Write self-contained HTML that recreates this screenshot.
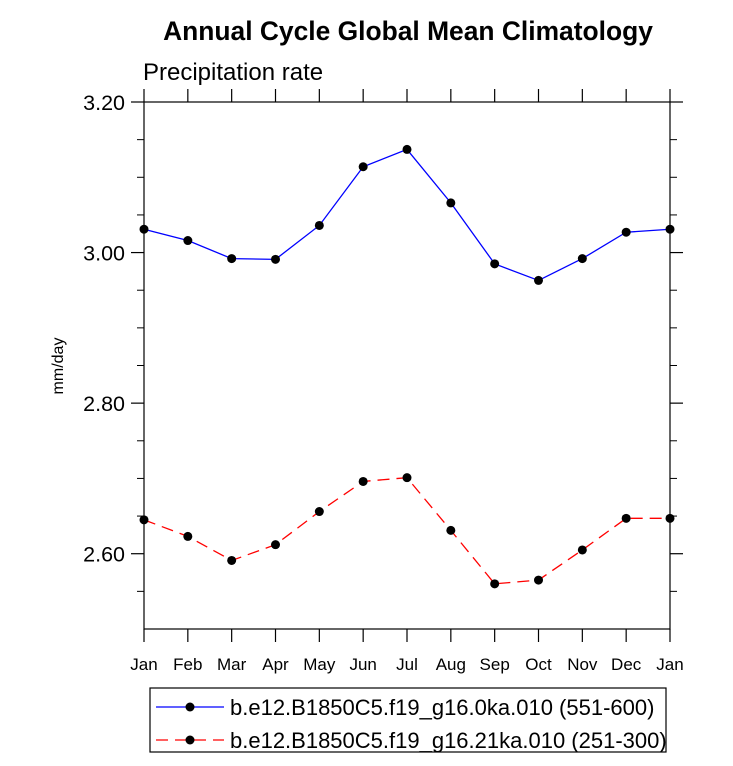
<!DOCTYPE html>
<html><head><meta charset="utf-8"><style>
body{margin:0;background:#fff;}
svg{display:block;font-family:"Liberation Sans",sans-serif;}
</style></head><body>
<svg id="c" width="733" height="766">
<text x="408" y="40" text-anchor="middle" font-size="26.4" font-weight="bold">Annual Cycle Global Mean Climatology</text>
<text x="143" y="80" font-size="24">Precipitation rate</text>
<text transform="translate(63,366) rotate(-90)" text-anchor="middle" font-size="16">mm/day</text>
<g id="axes"></g>
<g id="series"></g>
<rect x="150" y="688" width="516" height="64" fill="none" stroke="#000" stroke-width="1.2"/>
<g>
<line x1="156" y1="707" x2="224" y2="707" stroke="#00f" stroke-width="1.3"/>
<circle cx="190" cy="707" r="4.5"/>
<text x="230" y="715" font-size="22">b.e12.B1850C5.f19_g16.0ka.010 (551-600)</text>
</g>
<g>
<line x1="156" y1="740" x2="224" y2="740" stroke="#f00" stroke-width="1.3" stroke-dasharray="12,7"/>
<circle cx="190" cy="740" r="4.5"/>
<text x="230" y="748" font-size="22">b.e12.B1850C5.f19_g16.21ka.010 (251-300)</text>
</g>
</svg>
<script>
const months=["Jan","Feb","Mar","Apr","May","Jun","Jul","Aug","Sep","Oct","Nov","Dec","Jan"];
const blueVals=[3.031,3.016,2.992,2.991,3.036,3.114,3.137,3.066,2.985,2.963,2.992,3.027,3.031];
const redVals=[2.645,2.623,2.591,2.612,2.656,2.696,2.701,2.631,2.560,2.565,2.605,2.647,2.647];
const yTicks=[2.60,2.80,3.00,3.20];
const yTickLabels=["2.60","2.80","3.00","3.20"];
const yMinor=[2.55,2.65,2.70,2.75,2.85,2.90,2.95,3.05,3.10,3.15];
const X0=144,X1=670,Y0=629,Y1=102,YMIN=2.5,YMAX=3.2;
const xs=i=>X0+(X1-X0)*i/(months.length-1);
const ys=v=>Y0-(v-YMIN)/(YMAX-YMIN)*(Y0-Y1);
const NS="http://www.w3.org/2000/svg";
function mk(tag,attrs,parent){const e=document.createElementNS(NS,tag);for(const k in attrs)e.setAttribute(k,attrs[k]);parent.appendChild(e);return e;}
const ax=document.getElementById('axes');
const fr=mk('rect',{x:X0,y:Y1,width:X1-X0,height:Y0-Y1,fill:'none',stroke:'#000','stroke-width':1.2},ax);


months.forEach((m,i)=>{
 const x=xs(i);
 mk('line',{x1:x,y1:Y0,x2:x,y2:Y0+13,stroke:'#000','stroke-width':1.2},ax);
 mk('line',{x1:x,y1:Y1,x2:x,y2:Y1-13,stroke:'#000','stroke-width':1.2},ax);
 const t=mk('text',{x:x,y:Y0+41,'text-anchor':'middle','font-size':17},ax);
 t.textContent=m;
 
 
});
yTicks.forEach((v,i)=>{
 const y=ys(v);
 mk('line',{x1:X0-13,y1:y,x2:X0,y2:y,stroke:'#000','stroke-width':1.2},ax);
 mk('line',{x1:X1,y1:y,x2:X1+13,y2:y,stroke:'#000','stroke-width':1.2},ax);
 const t=mk('text',{x:X0-19,y:y+8,'text-anchor':'end','font-size':21.5},ax);
 t.textContent=yTickLabels[i];
 
 
});
yMinor.forEach(v=>{
 const y=ys(v);
 mk('line',{x1:X0-7,y1:y,x2:X0,y2:y,stroke:'#000','stroke-width':1},ax);
 mk('line',{x1:X1,y1:y,x2:X1+7,y2:y,stroke:'#000','stroke-width':1},ax);
});
const sg=document.getElementById('series');
function series(vals,color,dash,name){
 const g=mk('g',{},sg);
 
 
 mk('polyline',{points:vals.map((v,i)=>xs(i)+','+ys(v)).join(' '),fill:'none',stroke:color,'stroke-width':1.3,'stroke-dasharray':dash},g);
 vals.forEach((v,i)=>{
  const c=mk('circle',{cx:xs(i),cy:ys(v),r:4.5,fill:'#000'},g);
  
  
 });
}
series(blueVals,'#00f','none','series-0ka');
series(redVals,'#f00','12,7','series-21ka');
</script>
</body></html>
